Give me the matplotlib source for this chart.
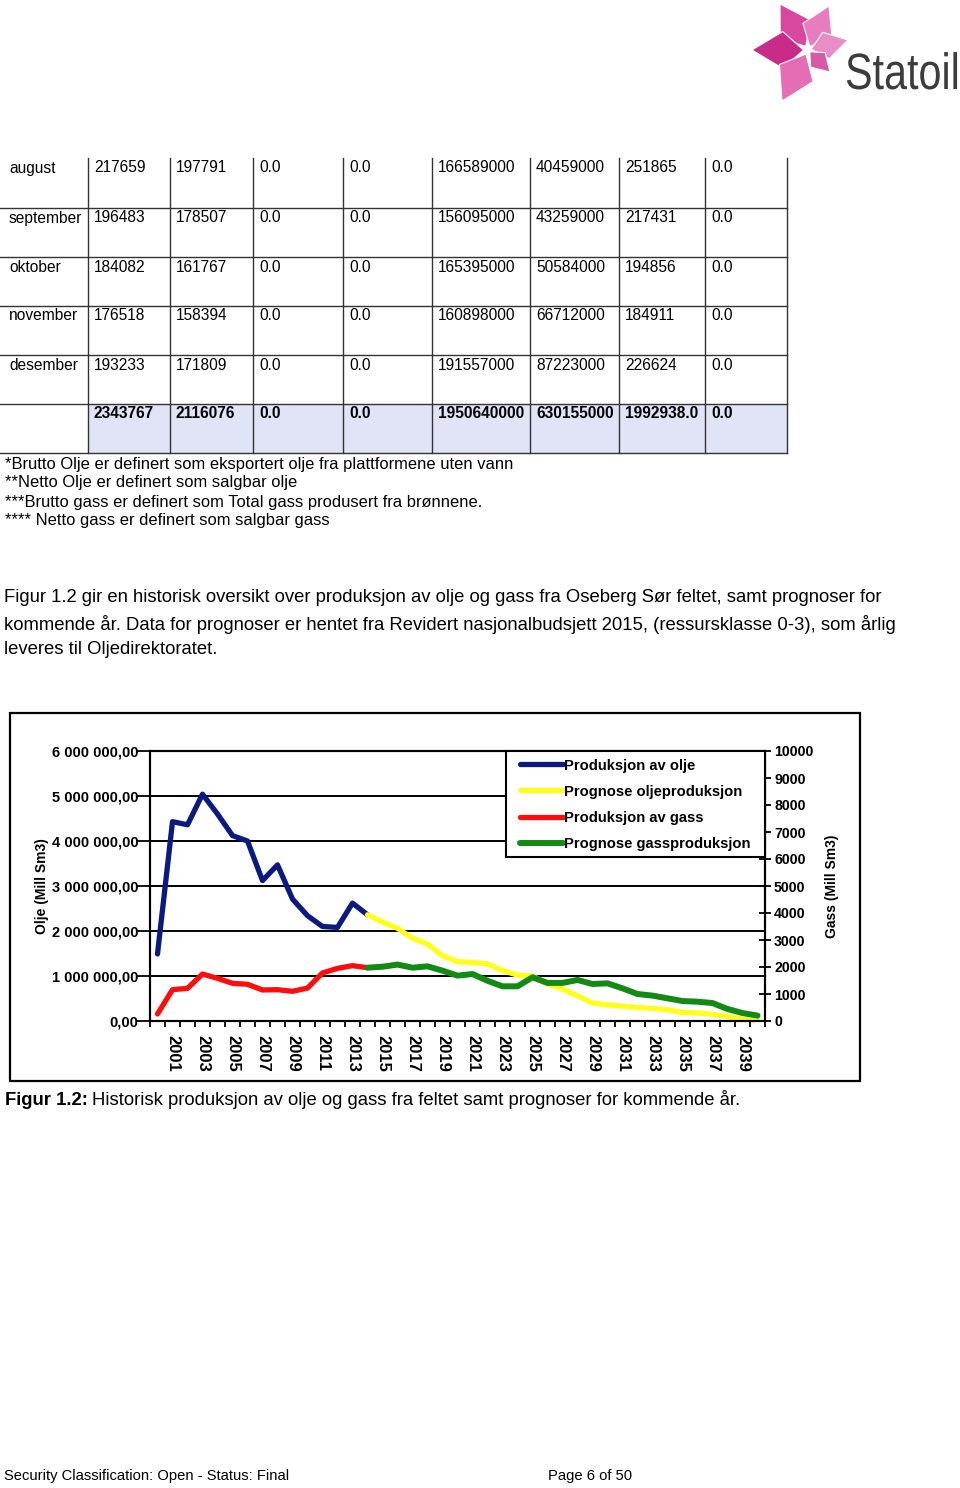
import matplotlib
matplotlib.use("Agg")
import matplotlib.pyplot as plt
from matplotlib.patches import Polygon, Rectangle, PathPatch
from matplotlib.textpath import TextPath
from matplotlib.font_manager import FontProperties
from matplotlib.transforms import Affine2D
from matplotlib.ticker import FuncFormatter, MultipleLocator

plt.rcParams['font.family'] = ['Liberation Sans', 'DejaVu Sans']

# ---- data ----
years = list(range(2000, 2041))
year_labels = [str(y) if y % 2 == 1 else '' for y in years]

# oil in Sm3 (left axis), gas in Mill Sm3 (right axis)
oil_hist = [1490000, 4430000, 4360000, 5040000, 4600000, 4120000, 4000000,
            3120000, 3470000, 2710000, 2340000, 2100000, 2080000, 2620000,
            2360000]
oil_prog = [2360000, 2200000, 2060000, 1840000, 1710000, 1450000, 1320000,
            1300000, 1270000, 1120000, 1020000, 1000000, 820000, 710000,
            560000, 400000, 360000, 330000, 300000, 280000, 250000, 190000,
            180000, 150000, 100000, 40000, 0]
gas_hist = [260, 1160, 1210, 1740, 1580, 1395, 1360, 1150, 1160, 1100, 1220,
            1780, 1950, 2050, 1975]
gas_prog = [1975, 2010, 2090, 1975, 2025, 1865, 1680, 1740, 1490, 1285, 1285,
            1620, 1410, 1410, 1520, 1370, 1395, 1210, 1000, 940, 840, 740, 715,
            665, 445, 295, 200]
series_names = ['Produksjon av olje', 'Prognose oljeproduksjon',
                'Produksjon av gass', 'Prognose gassproduksjon']

# table (continued from previous page)
months = ['august', 'september', 'oktober', 'november', 'desember', '']
brutto_olje = ['217659', '196483', '184082', '176518', '193233', '2343767']
netto_olje = ['197791', '178507', '161767', '158394', '171809', '2116076']
kol3 = ['0.0', '0.0', '0.0', '0.0', '0.0', '0.0']
kol4 = ['0.0', '0.0', '0.0', '0.0', '0.0', '0.0']
brutto_gass = ['166589000', '156095000', '165395000', '160898000', '191557000', '1950640000']
netto_gass = ['40459000', '43259000', '50584000', '66712000', '87223000', '630155000']
kol7 = ['251865', '217431', '194856', '184911', '226624', '1992938.0']
kol8 = ['0.0', '0.0', '0.0', '0.0', '0.0', '0.0']

notes = ['*Brutto Olje er definert som eksportert olje fra plattformene uten vann',
         '**Netto Olje er definert som salgbar olje',
         '***Brutto gass er definert som Total gass produsert fra brønnene.',
         '**** Netto gass er definert som salgbar gass']
paragraph = ['Figur 1.2 gir en historisk oversikt over produksjon av olje og gass fra Oseberg Sør feltet, samt prognoser for',
             'kommende år. Data for prognoser er hentet fra Revidert nasjonalbudsjett 2015, (ressursklasse 0-3), som årlig',
             'leveres til Oljedirektoratet.']

# ---- page ----
fig = plt.figure(figsize=(9.6, 14.88), dpi=100)
page = fig.add_axes([0, 0, 1, 1])
page.set_xlim(0, 960)
page.set_ylim(1488, 0)
page.axis('off')

# logo
center = (808, 50)
petals = [((780, 4), '#d9479e'), ((829, 6), '#e77dbd'), ((752, 50), '#c92c88'),
          ((782, 101), '#e56db4'), ((848, 40), '#ea8cc6'), ((830, 72), '#d85aa6')]
for tip, col in petals:
    dx, dy = tip[0] - center[0], tip[1] - center[1]
    w = 0.33
    p1 = (center[0] + dx * 0.45 - dy * w, center[1] + dy * 0.45 + dx * w)
    p2 = (center[0] + dx * 0.45 + dy * w, center[1] + dy * 0.45 - dx * w)
    page.add_patch(Polygon([(center[0] + dx * 0.08, center[1] + dy * 0.08), p1, tip, p2],
                           closed=True, fc=col, ec='white', lw=0.8))
tp = TextPath((0, 0), 'Statoil', size=51, prop=FontProperties(family='Liberation Sans'))
page.add_patch(PathPatch(tp, transform=Affine2D().scale(0.81, -1).translate(845, 89) + page.transData,
                         fc='#3c3c3c', ec='none'))

# table
col_x = [0, 88, 170, 253, 343, 432, 530, 619, 705, 787]
row_y = [158, 208, 257, 306, 355, 404, 453]
columns = [months, brutto_olje, netto_olje, kol3, kol4, brutto_gass, netto_gass, kol7, kol8]
page.add_patch(Rectangle((col_x[1], row_y[5]), col_x[-1] - col_x[1], row_y[6] - row_y[5],
                         fc='#e1e3f7', ec='none'))
for y in row_y[1:]:
    page.plot([0, col_x[-1]], [y, y], color='#333333', lw=1.0)
for x in col_x[1:]:
    page.plot([x, x], [row_y[0], row_y[-1]], color='#333333', lw=1.0)
for ci, col in enumerate(columns):
    for ri, val in enumerate(col):
        page.text(col_x[ci] + (9 if ci == 0 else 6), row_y[ri] + 10, val, fontsize=11.2,
                  va='center', ha='left', fontweight='bold' if ri == 5 else 'normal')

for i, line in enumerate(notes):
    page.text(5, 464 + 19 * i, line, fontsize=11.9, va='center', ha='left')
for i, line in enumerate(paragraph):
    page.text(4, 598 + 26 * i, line, fontsize=13.3, va='center', ha='left')

# chart frame
page.add_patch(Rectangle((10, 713), 850, 368, fc='none', ec='black', lw=1.6))

# caption
renderer = fig.canvas.get_renderer()
cap_b = page.text(5, 1105, 'Figur 1.2:', fontsize=13.3, fontweight='bold', va='baseline', ha='left')
bb = cap_b.get_window_extent(renderer)
page.text(bb.x1 + 4, 1105, 'Historisk produksjon av olje og gass fra feltet samt prognoser for kommende år.',
          fontsize=13.3, va='baseline', ha='left')

# footer
page.text(4, 1476, 'Security Classification: Open - Status: Final', fontsize=10.6, va='center', ha='left')
page.text(548, 1476, 'Page 6 of 50', fontsize=10.6, va='center', ha='left')

# ---- chart ----
W, H = 960.0, 1488.0
ax = fig.add_axes([150 / W, 1 - 1021 / H, 615 / W, 270 / H])
ax.set_facecolor('none')
idx = list(range(len(years)))
n_hist = len(oil_hist)
h_idx = idx[:n_hist]
p_idx = idx[n_hist - 1:]

l1, = ax.plot(h_idx, oil_hist, color='#0a1a80', lw=3.8, solid_joinstyle='round', solid_capstyle='round')
l2, = ax.plot(p_idx, oil_prog, color='#ffff1a', lw=3.8, solid_joinstyle='round', solid_capstyle='round')
ax.set_xlim(-0.5, len(years) - 0.5)
ax.set_ylim(0, 6000000)
ax.yaxis.set_major_locator(MultipleLocator(1000000))
ax.yaxis.set_major_formatter(FuncFormatter(lambda v, p: f"{v:,.2f}".replace(',', ' ').replace('.', ',')))
ax.grid(axis='y', color='black', lw=1.4)
ax.set_axisbelow(True)
for s in ['left', 'right', 'bottom', 'top']:
    ax.spines[s].set_linewidth(1.5)
    ax.spines[s].set_color('black')

ax.set_xticks(idx)
ax.set_xticklabels(year_labels, rotation=270, fontsize=12, fontweight='bold')
ax.tick_params(axis='x', which='major', length=0, pad=10)
ax.set_xticks([i - 0.5 for i in idx] + [idx[-1] + 0.5], minor=True)
ax.tick_params(axis='x', which='minor', direction='out', length=4.5, width=1.3)
ax.tick_params(axis='y', direction='out', length=9.5, width=1.3, pad=-1, labelsize=10.5)
for t in ax.get_yticklabels():
    t.set_fontweight('bold')
ax.set_ylabel('Olje (Mill Sm3)', fontsize=10, fontweight='bold')
ax.yaxis.set_label_coords(-0.165, 0.5)

ax2 = ax.twinx()
l3, = ax2.plot(h_idx, gas_hist, color='#ff0d0d', lw=3.8, solid_joinstyle='round', solid_capstyle='round')
l4, = ax2.plot(p_idx, gas_prog, color='#138a13', lw=4.3, solid_joinstyle='round', solid_capstyle='round')
ax2.set_ylim(0, 10000)
ax2.yaxis.set_major_locator(MultipleLocator(1000))
ax2.tick_params(axis='y', direction='inout', length=9, width=1.3, pad=2, labelsize=10.2)
for t in ax2.get_yticklabels():
    t.set_fontweight('bold')
ax2.set_ylabel('Gass (Mill Sm3)', fontsize=10, fontweight='bold', rotation=90)
ax2.yaxis.set_label_coords(1.098, 0.5)
for s in ax2.spines.values():
    s.set_linewidth(1.5)

# legend box: white panel with black border in the upper right corner of the plot
ax2.add_patch(Rectangle((0.579, 0.607), 0.421, 0.393, transform=ax2.transAxes,
                        fc='white', ec='black', lw=1.5, zorder=4, clip_on=False))
leg = ax2.legend([l1, l2, l3, l4], series_names, loc='upper left', bbox_to_anchor=(0.6016, 0.972),
                 borderaxespad=0, frameon=False,
                 prop=FontProperties(family='Liberation Sans', weight='bold', size=10.6),
                 handlelength=2.92, handletextpad=0.05, labelspacing=0.82, borderpad=0)
leg.set_zorder(5)

fig.savefig('out.png', dpi=100)
